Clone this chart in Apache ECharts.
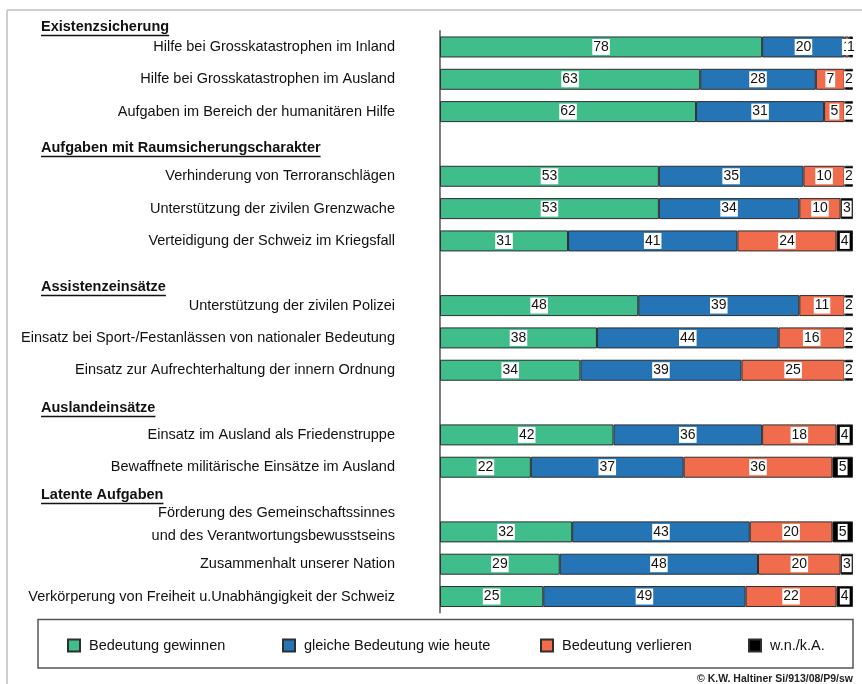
<!DOCTYPE html>
<html>
<head>
<meta charset="utf-8">
<script src="https://cdn.jsdelivr.net/npm/echarts@6/dist/echarts.min.js"></script>
<style>
html,body{margin:0;padding:0;background:#fff;}
#chart{width:862px;height:684px;}
</style>
</head>
<body>
<div id="chart"></div>
<script>
// ---- data ----
const categories = [
  'Hilfe bei Grosskatastrophen im Inland',
  'Hilfe bei Grosskatastrophen im Ausland',
  'Aufgaben im Bereich der humanitären Hilfe',
  '',
  'Verhinderung von Terroranschlägen',
  'Unterstützung der zivilen Grenzwache',
  'Verteidigung der Schweiz im Kriegsfall',
  '',
  'Unterstützung der zivilen Polizei',
  'Einsatz bei Sport-/Festanlässen von nationaler Bedeutung',
  'Einsatz zur Aufrechterhaltung der innern Ordnung',
  '',
  'Einsatz im Ausland als Friedenstruppe',
  'Bewaffnete militärische Einsätze im Ausland',
  '',
  'Förderung des Gemeinschaftssinnes\nund des Verantwortungsbewusstseins',
  'Zusammenhalt unserer Nation',
  'Verkörperung von Freiheit u.Unabhängigkeit der Schweiz'
];
const headers = ['Existenzsicherung', 'Aufgaben mit Raumsicherungscharakter', 'Assistenzeinsätze', 'Auslandeinsätze', 'Latente Aufgaben'];
const seriesNames = ['Bedeutung gewinnen', 'gleiche Bedeutung wie heute', 'Bedeutung verlieren', 'w.n./k.A.'];
const gewinnen  = [78, 63, 62, null, 53, 53, 31, null, 48, 38, 34, null, 42, 22, null, 32, 29, 25];
const gleich    = [20, 28, 31, null, 35, 34, 41, null, 39, 44, 39, null, 36, 37, null, 43, 48, 49];
const verlieren = [ 1,  7,  5, null, 10, 10, 24, null, 11, 16, 25, null, 18, 36, null, 20, 20, 22];
const wnka      = [ 1,  2,  2, null,  2,  3,  4, null,  2,  2,  2, null,  4,  5, null,  5,  3,  4];
const copyright = '© K.W. Haltiner Si/913/08/P9/sw';

// ---- styling ----
const FONT = '"Liberation Sans", Arial, Helvetica, sans-serif';
const colors = ['#3fbd8b', '#2574b5', '#f06c4c', '#000000'];
const values = [gewinnen, gleich, verlieren, wnka];

const chart = echarts.init(document.getElementById('chart'), null, {renderer: 'canvas'});

const series = seriesNames.map((name, i) => ({
  name: name,
  type: 'bar',
  stack: 'total',
  barWidth: 21,
  data: values[i],
  itemStyle: {color: colors[i], borderColor: '#2e2e2e', borderWidth: 1},
  label: {
    show: true,
    position: 'inside',
    color: '#111',
    fontFamily: FONT,
    fontSize: 14,
    backgroundColor: '#fff',
    padding: [1, 1, 0, 1],
    lineHeight: 15
  },
  emphasis: {disabled: true}
}));

// header positions (y centres of header text)
const headerY = [27, 148, 287, 408, 495];
const measureCtx = document.createElement('canvas').getContext('2d');
const headerFont = 'bold 14.5px ' + FONT;
measureCtx.font = headerFont;
const graphics = [];
// outer frame lines
graphics.push({type: 'line', shape: {x1: 7, y1: 10, x2: 862, y2: 10}, style: {stroke: '#cfcfcf', lineWidth: 2}, silent: true});
graphics.push({type: 'line', shape: {x1: 7, y1: 10, x2: 7, y2: 684}, style: {stroke: '#cfcfcf', lineWidth: 2}, silent: true});
// legend box
graphics.push({type: 'rect', shape: {x: 38, y: 619.5, width: 815, height: 48.5}, style: {fill: 'none', stroke: '#555', lineWidth: 1.5}, silent: true, z: 0});
headers.forEach((h, i) => {
  const w = measureCtx.measureText(h).width;
  graphics.push({type: 'text', x: 41, y: headerY[i], style: {text: h, font: headerFont, fill: '#111', verticalAlign: 'middle', align: 'left'}, silent: true});
  graphics.push({type: 'line', shape: {x1: 41, y1: headerY[i] + 8.5, x2: 41 + w, y2: headerY[i] + 8.5}, style: {stroke: '#111', lineWidth: 1.3}, silent: true});
});
graphics.push({type: 'text', x: 853, y: 679, style: {text: copyright, font: 'bold 10.5px ' + FONT, fill: '#222', align: 'right', verticalAlign: 'middle'}, silent: true});

const legendX = [67, 282, 540, 748];
const legends = seriesNames.map((n, i) => ({
  data: [n],
  left: legendX[i],
  top: 638,
  padding: 0,
  itemWidth: 12,
  itemHeight: 12,
  icon: 'rect',
  selectedMode: false,
  textStyle: {fontFamily: FONT, fontSize: 14.5, color: '#111', padding: [0, 0, 0, 4]}
}));

chart.setOption({
  animation: false,
  backgroundColor: '#fff',
  textStyle: {fontFamily: FONT},
  grid: {left: 440, right: 9, top: 30.8, bottom: 71.3, containLabel: false},
  xAxis: {type: 'value', min: 0, max: 100, show: false},
  yAxis: {
    type: 'category',
    inverse: true,
    data: categories,
    axisLine: {show: true, lineStyle: {color: '#555', width: 1.5}},
    axisTick: {show: false},
    splitLine: {show: false},
    axisLabel: {
      margin: 45,
      color: '#111',
      fontFamily: FONT,
      fontSize: 14.5,
      interval: 0,
      formatter: function (v) {
        if (v.indexOf('\n') >= 0) {
          // two-line label: second line sits beside the bar
          return v.split('\n').map(s => '{m|' + s + '}').join('\n') + '\n{s| }';
        }
        return v;
      },
      rich: {
        m: {fontFamily: FONT, fontSize: 14.5, color: '#111', lineHeight: 23, align: 'right'},
        s: {fontSize: 4, lineHeight: 14}
      }
    }
  },
  legend: legends,
  series: series,
  graphic: graphics
});
</script>
</body>
</html>
